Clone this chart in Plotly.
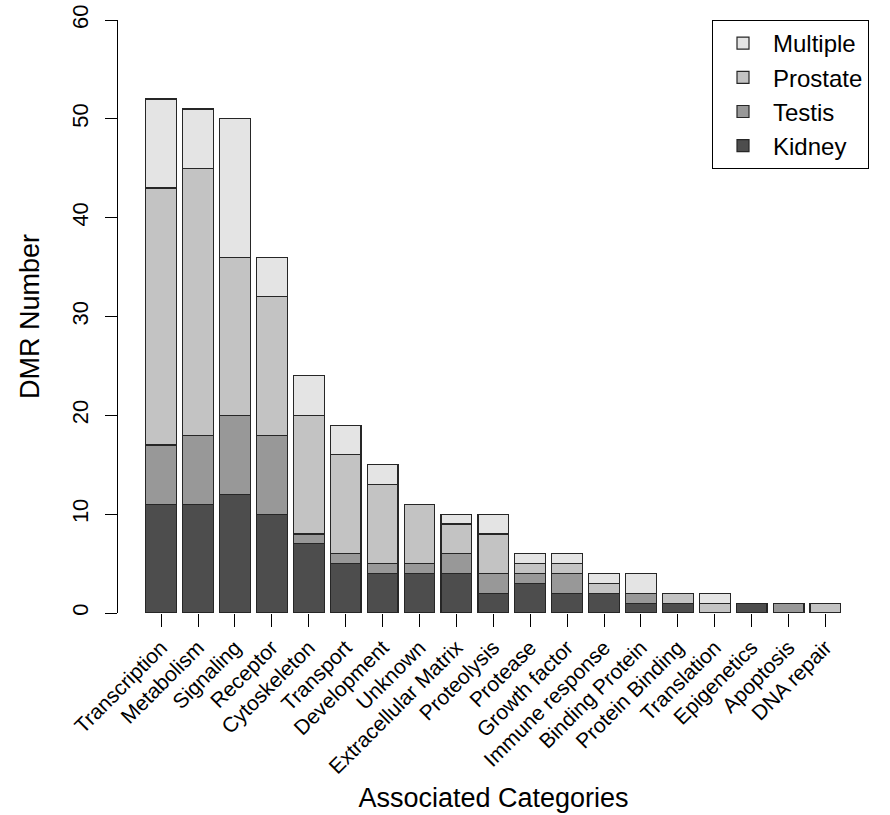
import plotly.graph_objects as go

categories = ["Transcription", "Metabolism", "Signaling", "Receptor", "Cytoskeleton",
              "Transport", "Development", "Unknown", "Extracellular Matrix", "Proteolysis",
              "Protease", "Growth factor", "Immune response", "Binding Protein",
              "Protein Binding", "Translation", "Epigenetics", "Apoptosis", "DNA repair"]

kidney   = [11, 11, 12, 10, 7, 5, 4, 4, 4, 2, 3, 2, 2, 1, 1, 0, 1, 0, 0]
testis   = [6, 7, 8, 8, 1, 1, 1, 1, 2, 2, 1, 2, 0, 1, 0, 0, 0, 1, 0]
prostate = [26, 27, 16, 14, 12, 10, 8, 6, 3, 4, 1, 1, 1, 0, 1, 1, 0, 0, 1]
multiple = [9, 6, 14, 4, 4, 3, 2, 0, 1, 2, 1, 1, 1, 2, 0, 1, 0, 0, 0]

y_ticks = [0, 10, 20, 30, 40, 50, 60]

series = [
    ("Kidney", kidney, "#4d4d4d"),
    ("Testis", testis, "#989898"),
    ("Prostate", prostate, "#c3c3c3"),
    ("Multiple", multiple, "#e4e4e4"),
]

font_family = "Liberation Sans, Arial, Helvetica, sans-serif"

fig = go.Figure()
for name, vals, color in series:
    fig.add_trace(go.Bar(
        x=categories, y=vals, name=name,
        marker=dict(color=color, line=dict(color="#262626", width=1.2)),
    ))

fig.update_layout(
    width=890, height=815,
    margin=dict(l=118, r=21, t=20, b=202, autoexpand=False),
    barmode="stack",
    bargap=0.1667,
    plot_bgcolor="white",
    paper_bgcolor="white",
    font=dict(family=font_family, color="black"),
    showlegend=True,
    legend=dict(
        x=1, y=1.0, xanchor="right", yanchor="top",
        traceorder="reversed",
        bordercolor="black", borderwidth=1,
        bgcolor="white",
        font=dict(size=24, family=font_family),
        itemwidth=50,
        tracegroupgap=0,
    ),
    xaxis=dict(
        type="category",
        range=[-1.17, 19.18],
        automargin=False,
        showline=False, showgrid=False, zeroline=False,
        ticks="outside", ticklen=13, tickcolor="black", tickwidth=1,
        tickangle=-45,
        tickfont=dict(size=21),
        title=dict(text="Associated Categories", font=dict(size=27), standoff=10),
    ),
    yaxis=dict(
        range=[0, 60],
        tickvals=y_ticks,
        automargin=False,
        showline=True, linecolor="black", linewidth=1,
        showgrid=False, zeroline=False,
        ticks="outside", ticklen=12, tickcolor="black", tickwidth=1,
        tickangle=-90,
        ticklabelstandoff=8,
        tickfont=dict(size=22),
        title=dict(text="DMR Number", font=dict(size=27), standoff=20),
    ),
)

fig.write_html("out.html")
